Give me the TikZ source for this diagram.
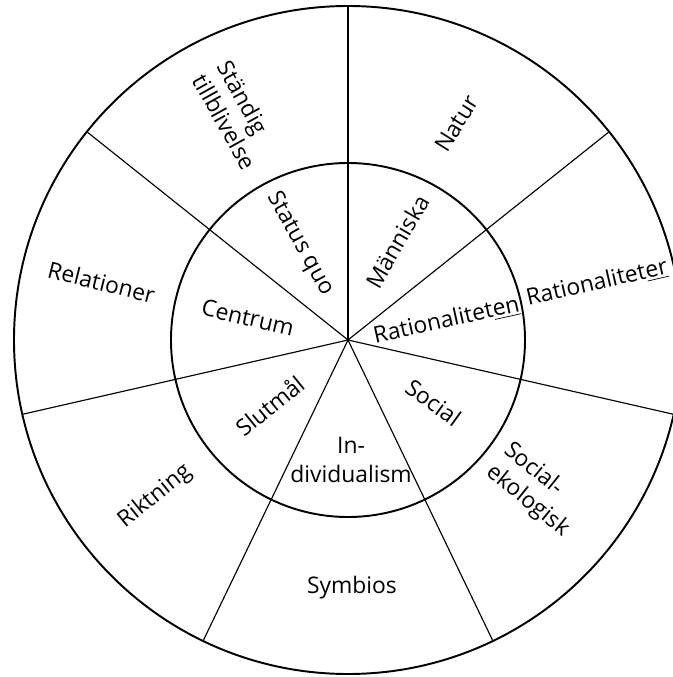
\documentclass[tikz,border=0pt]{standalone}
\usepackage{fontspec}
\setmainfont{Open Sans}
\tikzset{ring/.style={line width=1.1pt}, spoke/.style={line width=0.65pt}}
\tikzset{lbl/.style={font=\fontsize{13}{16}\selectfont, inner sep=1pt}}

\begin{document}
\begin{tikzpicture}
      \useasboundingbox (-6.96,-6.74) rectangle (6.5,6.8);
      \clip (-6.96,-6.74) rectangle (6.5,6.8);

      \coordinate (c) at (0, 0);
      \draw[ring] (c) circle (6.68);
      \draw[ring] (c) circle (3.54);
      \foreach \k in {0,...,6} {
        \coordinate (s\k) at ({90-\k*360/7}:6.68);
        \draw[spoke] (c) -- (s\k);
      }

      \node[lbl, rotate=58] (natur) at (2.17, 4.33) {Natur};
      \node[lbl, rotate=13] (ratter) at (4.98, 1.14) {Rationalitet\underline{er}};
      \node[lbl, rotate=-39, align=left] (socekol) at (3.77, -3.0) {Social-\\ekologisk};
      \node[lbl] (symbios) at (0.08, -4.96) {Symbios};
      \node[lbl, rotate=39] (riktning) at (-3.86, -3.13) {Riktning};
      \node[lbl, rotate=-14] (relationer) at (-4.93, 1.16) {Relationer};
      \node[lbl, rotate=-61, align=left] (standig) at (-2.22, 4.5) {Ständig\\tillblivelse};

      \node[lbl, rotate=60] (manniska) at (0.99, 1.97) {Människa};
      \node[lbl, rotate=12.5] (ratten) at (1.97, 0.39) {Rationalitet\underline{en}};
      \node[lbl, rotate=-36] (social) at (1.71, -1.25) {Social};
      \node[lbl, align=center] (individ) at (0.06, -2.4) {In-\\dividualism};
      \node[lbl, rotate=39] (slutmal) at (-1.57, -1.31) {Slutmål};
      \node[lbl, rotate=-13] (centrum) at (-2.0, 0.45) {Centrum};
      \node[lbl, rotate=-61] (statusquo) at (-0.96, 1.92) {Status quo};
\end{tikzpicture}
\end{document}
